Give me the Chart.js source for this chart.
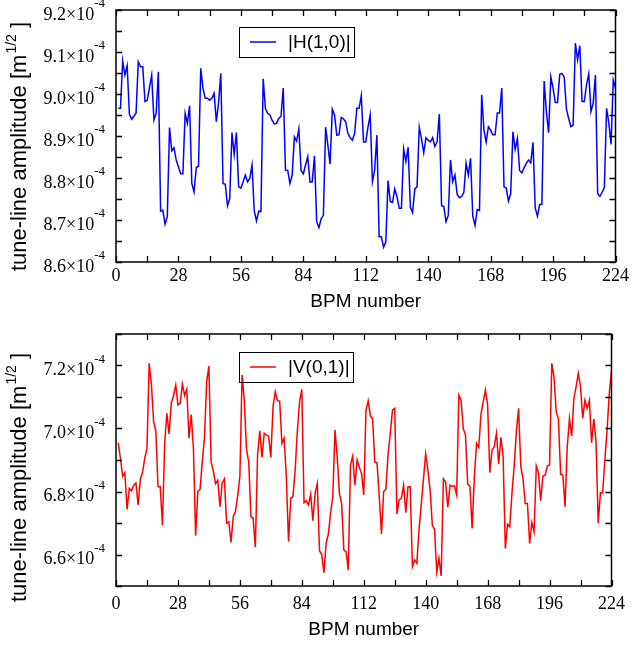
<!DOCTYPE html>
<html><head><meta charset="utf-8">
<script src="https://cdn.jsdelivr.net/npm/chart.js@4.4.0/dist/chart.umd.min.js"></script>
<style>
html,body{margin:0;padding:0;background:#fff;}
#wrap{position:relative;width:632px;height:645px;}
canvas{position:absolute;left:0;}
</style></head><body>
<div id="wrap">
<canvas id="c1" width="632" height="322" style="top:0px"></canvas>
<canvas id="c2" width="632" height="323" style="top:322px"></canvas>
</div>
<script>
// BPM index (x) and tune-line amplitudes in units of 1e-4 m^1/2
const bpmCount = 224;
const bpm = Array.from({length: bpmCount}, (_, i) => i + 1);

const hAmp = [8.966,8.966,9.079,9.045,9.068,8.952,8.940,8.947,8.955,9.077,
9.065,9.065,8.982,8.985,9.015,9.045,8.938,8.954,9.053,8.721,
8.723,8.690,8.708,8.920,8.865,8.872,8.843,8.827,8.810,8.810,
8.954,8.930,8.972,8.787,8.767,8.825,8.828,9.061,9.014,8.990,
8.990,8.985,8.990,9.002,8.934,8.980,9.049,8.787,8.785,8.734,
8.751,8.908,8.856,8.908,8.779,8.776,8.791,8.807,8.791,8.799,
8.831,8.721,8.698,8.721,8.720,9.036,8.966,8.954,8.950,8.938,
8.929,8.930,8.942,8.947,9.014,8.819,8.818,8.787,8.807,8.898,
8.888,8.917,8.818,8.810,8.831,8.851,8.790,8.791,8.853,8.696,
8.682,8.703,8.711,8.921,8.879,8.833,8.964,8.950,8.902,8.903,
8.944,8.941,8.934,8.906,8.896,8.890,8.906,8.966,8.966,8.996,
8.886,8.886,8.921,8.950,8.791,8.819,8.902,8.660,8.660,8.635,
8.648,8.794,8.744,8.742,8.774,8.756,8.728,8.728,8.869,8.839,
8.873,8.731,8.718,8.774,8.779,8.921,8.894,8.860,8.896,8.890,
8.886,8.896,8.875,8.886,8.952,8.734,8.732,8.696,8.711,8.843,
8.791,8.807,8.761,8.753,8.756,8.766,8.835,8.807,8.847,8.709,
8.687,8.725,8.723,8.998,8.914,8.886,8.922,8.914,8.903,8.903,
8.955,8.955,9.014,8.779,8.776,8.745,8.763,8.910,8.868,8.894,
8.818,8.812,8.824,8.835,8.843,8.836,8.885,8.728,8.709,8.737,
8.737,9.031,8.958,8.908,9.041,9.014,8.980,8.980,9.047,9.049,
9.040,8.964,8.942,8.922,8.926,9.121,9.081,9.115,8.982,8.982,
9.022,9.048,8.958,8.978,9.045,8.763,8.756,8.766,8.777,8.966,
8.932,8.880,9.033,9.014];

const vAmp = [6.955,6.906,6.849,6.860,6.743,6.810,6.803,6.820,6.827,6.757,
6.839,6.860,6.906,6.937,7.207,7.141,7.022,6.993,6.815,6.815,
6.693,6.953,7.048,6.983,7.082,7.104,7.138,7.075,7.080,7.141,
7.105,7.125,6.969,7.044,6.937,6.660,6.800,6.807,6.894,6.973,
7.149,7.198,6.894,6.865,6.825,6.836,6.752,6.827,6.840,6.699,
6.704,6.638,6.720,6.736,6.786,6.847,7.170,7.090,6.934,6.894,
6.720,6.715,6.623,6.916,6.993,6.908,6.985,6.979,6.976,6.908,
7.071,7.117,7.088,7.087,6.953,6.969,6.847,6.641,6.778,6.784,
6.868,6.995,7.085,7.124,6.765,6.771,6.757,6.792,6.707,6.794,
6.825,6.612,6.600,6.542,6.636,6.665,6.731,6.784,6.995,6.910,
6.794,6.762,6.614,6.609,6.551,6.884,6.912,6.820,6.900,6.877,
6.857,6.789,7.057,7.088,7.040,7.032,6.894,6.891,6.784,6.665,
6.800,6.807,6.919,6.985,7.059,7.064,6.729,6.773,6.778,6.820,
6.733,6.815,6.815,6.562,6.583,6.572,6.680,6.760,6.840,6.920,
6.868,6.805,6.693,6.680,6.545,6.588,6.532,6.840,6.830,6.750,
6.820,6.817,6.818,6.789,7.106,7.090,7.000,6.979,6.823,6.817,
6.683,6.847,6.953,6.940,7.046,7.085,7.122,7.075,6.860,6.932,
6.942,6.985,6.887,6.972,6.912,6.619,6.696,6.688,6.794,6.881,
6.990,7.064,6.879,6.840,6.762,6.762,6.635,6.701,6.672,6.881,
6.860,6.771,6.849,6.852,6.881,6.884,7.207,7.164,7.054,7.030,
6.855,6.852,6.752,6.942,7.032,6.976,7.096,7.133,7.175,7.133,
7.032,7.090,7.064,7.090,6.955,7.030,6.959,6.699,6.796,6.796,
6.900,6.995,7.111,7.185];

const xTickLabels = [0, 28, 56, 84, 112, 140, 168, 196, 224];
const hTickLabels = [8.6, 8.7, 8.8, 8.9, 9.0, 9.1, 9.2];
const vTickLabels = [6.6, 6.8, 7.0, 7.2];
const tickExponent = '-4';
const xTitle = 'BPM number';
const yTitleMain = 'tune-line amplitude [m';
const yTitleSup = '1/2';
const yTitleEnd = ' ]';

const SERIF = '"Liberation Serif","Times New Roman",serif';
const SANS = '"Liberation Sans",Arial,Helvetica,sans-serif';

function panel(id, cfg) {
  const ctxEl = document.getElementById(id);
  const framePlugin = {
    id: 'frame',
    afterDraw(chart) {
      const c = chart.ctx, a = chart.chartArea;
      const xs = chart.scales.x, ys = chart.scales.y;
      c.save();
      c.strokeStyle = '#000';
      c.lineWidth = 1.3;
      for (let v = 0; v <= 224; v += 14) {
        const px = Math.round(xs.getPixelForValue(v)) + 0.5;
        const len = 6;
        c.beginPath();
        c.moveTo(px, a.bottom); c.lineTo(px, a.bottom - len);
        c.moveTo(px, a.top); c.lineTo(px, a.top + len);
        c.stroke();
      }
      for (let k = 0; ; k++) {
        const v = cfg.yMin + k * cfg.yMinor;
        if (v > cfg.yMax + 1e-9) break;
        const py = Math.round(ys.getPixelForValue(v)) + 0.5;
        c.beginPath();
        c.moveTo(a.left, py); c.lineTo(a.left + 6, py);
        c.moveTo(a.right, py); c.lineTo(a.right - 6, py);
        c.stroke();
      }
      c.lineWidth = 1.5;
      c.strokeRect(a.left, a.top, a.right - a.left, a.bottom - a.top);

      c.fillStyle = '#000';
      const mainFont = '18px ' + SERIF, supFont = '13px ' + SERIF;
      c.font = supFont;
      const supW = c.measureText(tickExponent).width;
      cfg.yLabels.forEach(v => {
        const py = ys.getPixelForValue(v);
        const xr = 105;
        c.font = supFont; c.textAlign = 'left'; c.textBaseline = 'middle';
        c.fillText(tickExponent, xr - supW, py - 6);
        c.font = mainFont; c.textAlign = 'right';
        c.fillText(v.toFixed(1) + '\u00d710', xr - supW, py + 5);
      });

      c.font = '19px ' + SANS; c.textAlign = 'center'; c.textBaseline = 'middle';
      c.fillText(xTitle, (a.left + a.right) / 2, cfg.xTitleY);

      c.save();
      c.translate(cfg.yTitleX, cfg.yTitleY);
      c.rotate(-Math.PI / 2);
      const tf = '22px ' + SANS, sf = '14px ' + SANS;
      c.font = tf; const w1 = c.measureText(yTitleMain).width; const w3 = c.measureText(yTitleEnd).width;
      c.font = sf; const w2 = c.measureText(yTitleSup).width;
      let x0 = -(w1 + w2 + w3) / 2;
      c.textAlign = 'left'; c.textBaseline = 'middle';
      c.font = tf; c.fillText(yTitleMain, x0, 0);
      c.font = sf; c.fillText(yTitleSup, x0 + w1 + 1, -8);
      c.font = tf; c.fillText(yTitleEnd, x0 + w1 + w2 + 1, 0);
      c.restore();

      const L = cfg.legend;
      c.lineWidth = 1;
      c.strokeStyle = '#000';
      c.strokeRect(L.x + 0.5, L.y + 0.5, L.w, L.h);
      const ds = chart.data.datasets[0];
      c.strokeStyle = ds.borderColor; c.lineWidth = 1.5;
      const ly = L.y + L.h / 2;
      c.beginPath(); c.moveTo(L.x + 11, ly); c.lineTo(L.x + 37, ly); c.stroke();
      c.fillStyle = '#000';
      c.font = '19px ' + SANS; c.textAlign = 'left'; c.textBaseline = 'middle';
      c.fillText(ds.label, L.x + 49, ly + 1);
      c.restore();
    }
  };

  return new Chart(ctxEl, {
    type: 'line',
    data: {
      datasets: [{
        label: cfg.label,
        data: cfg.values.map((v, i) => ({x: bpm[i], y: v})),
        borderColor: cfg.color,
        borderWidth: 1.5,
        pointRadius: 0,
        tension: 0,
        fill: false
      }]
    },
    options: {
      responsive: false,
      animation: false,
      events: [],
      layout: {padding: {top: cfg.padTop, right: 15, left: 0, bottom: 0}},
      plugins: {legend: {display: false}, tooltip: {enabled: false}},
      scales: {
        x: {
          type: 'linear', min: 0, max: 224,
          grid: {display: false, drawTicks: false},
          border: {display: false},
          afterBuildTicks: s => { s.ticks = xTickLabels.map(v => ({value: v})); },
          afterFit: s => { s.height = cfg.xHeight; },
          ticks: {font: {family: SERIF, size: 18}, color: '#000', padding: cfg.xPad, maxRotation: 0, autoSkip: false}
        },
        y: {
          type: 'linear', min: cfg.yMin, max: cfg.yMax,
          grid: {display: false, drawTicks: false},
          border: {display: false},
          ticks: {display: false},
          afterFit: s => { s.width = 116; }
        }
      }
    },
    plugins: [framePlugin]
  });
}

panel('c1', {
  label: '|H(1,0)|', values: hAmp, color: '#0000ff',
  yMin: 8.6, yMax: 9.2, yMinor: 0.05, yLabels: hTickLabels,
  padTop: 10, xHeight: 60, xPad: 3, xTitleY: 302,
  yTitleX: 20, yTitleY: 147,
  legend: {x: 239, y: 27, w: 115, h: 30}
});
panel('c2', {
  label: '|V(0,1)|', values: vAmp, color: '#ff0000',
  yMin: 6.5, yMax: 7.3, yMinor: 0.1, yLabels: vTickLabels,
  padTop: 12, xHeight: 59, xPad: 7, xTitleY: 308,
  yTitleX: 20, yTitleY: 156,
  legend: {x: 239, y: 30, w: 114, h: 30}
});
</script>
</body></html>
